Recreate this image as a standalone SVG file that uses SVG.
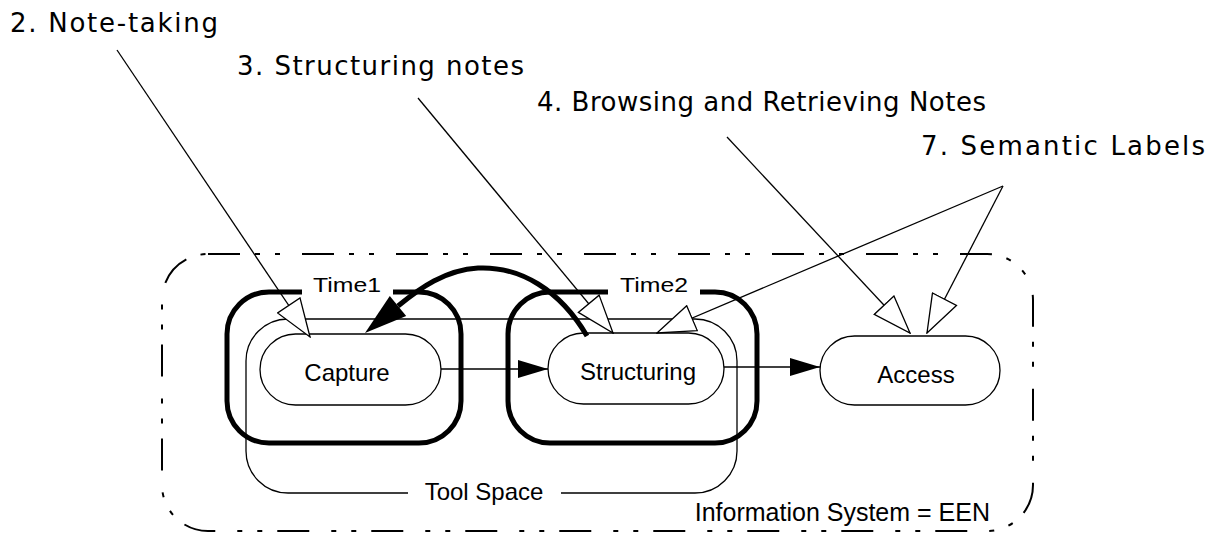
<svg xmlns="http://www.w3.org/2000/svg" width="1214" height="534" viewBox="0 0 1214 534">
<defs>
<style>
.lbl{font-family:"DejaVu Sans",Verdana,sans-serif;font-size:26px;fill:#000}
.txt{font-family:"Liberation Sans",Arial,sans-serif;font-size:24px;fill:#000}
.thin{fill:none;stroke:#000;stroke-width:1.3}
.thick{fill:none;stroke:#000;stroke-width:5}
.node{fill:#fff;stroke:#000;stroke-width:1.3}
.hollow{fill:#fff;stroke:#000;stroke-width:1.3;stroke-linejoin:miter}
</style>
<marker id="filled" viewBox="0 0 30 18" refX="30" refY="9" markerWidth="30" markerHeight="18" markerUnits="userSpaceOnUse" orient="auto">
<path d="M0,0 L30,9 L0,18 z" fill="#000"/>
</marker>
<marker id="hollowHead" viewBox="-1 -1 40 29" refX="38" refY="13.5" markerWidth="40" markerHeight="29" markerUnits="userSpaceOnUse" orient="auto">
<path d="M0,0 L38,13.5 L0,27 z" class="hollow"/>
</marker>
</defs>
<rect width="1214" height="534" fill="#fff"/>

<g id="information-system">
<rect x="162" y="254" width="871" height="277" rx="46" ry="46" fill="none" stroke="#000" stroke-width="2" stroke-dasharray="32 15 5 15 5 22"/>
<text class="txt" x="990" y="521" text-anchor="end" style="font-size:25px">Information System = EEN</text>
</g>

<g id="tool-space">
<path class="thin" d="M408,493 L288,493 A42,42 0 0 1 246,451 L246,361 A42,42 0 0 1 288,319 L695,319 A42,42 0 0 1 737,361 L737,451 A42,42 0 0 1 695,493 L561,493"/>
<text class="txt" x="484" y="500" text-anchor="middle">Tool Space</text>
</g>

<g id="time1">
<path class="thick" d="M302,292 L269,292 A42,42 0 0 0 227,334 L227,401 A42,42 0 0 0 269,443 L419,443 A42,42 0 0 0 461,401 L461,334 A42,42 0 0 0 419,292 L393,292"/>
<text class="txt" x="347" y="292" text-anchor="middle" style="font-size:21px" textLength="68" lengthAdjust="spacingAndGlyphs">Time1</text>
</g>

<g id="time2">
<path class="thick" d="M608,292 L550,292 A42,42 0 0 0 508,334 L508,401 A42,42 0 0 0 550,443 L715,443 A42,42 0 0 0 757,401 L757,334 A42,42 0 0 0 715,292 L700,292"/>
<text class="txt" x="654" y="292" text-anchor="middle" style="font-size:21px" textLength="68" lengthAdjust="spacingAndGlyphs">Time2</text>
</g>

<g id="capture">
<rect class="node" x="260" y="334" width="181" height="71" rx="35.5" ry="35.5"/>
<text class="txt" x="347" y="381" text-anchor="middle">Capture</text>
</g>

<g id="structuring">
<rect class="node" x="548" y="333" width="176" height="71" rx="35.5" ry="35.5"/>
<text class="txt" x="638" y="380" text-anchor="middle">Structuring</text>
</g>

<g id="access">
<rect class="node" x="820" y="336" width="180" height="69" rx="34.5" ry="34.5"/>
<text class="txt" x="916" y="383" text-anchor="middle">Access</text>
</g>

<g id="labels">
<text class="lbl" x="10" y="32" textLength="208" lengthAdjust="spacing">2. Note-taking</text>
<text class="lbl" x="237" y="75" textLength="287" lengthAdjust="spacing">3. Structuring notes</text>
<text class="lbl" x="537" y="111" textLength="449" lengthAdjust="spacing">4. Browsing and Retrieving Notes</text>
<text class="lbl" x="921" y="155" textLength="284" lengthAdjust="spacing">7. Semantic Labels</text>
</g>

<g id="connectors">
<line class="thin" x1="441" y1="369" x2="548" y2="369" stroke-width="1.6" marker-end="url(#filled)"/>
<line class="thin" x1="724" y1="367" x2="820" y2="367" stroke-width="1.6" marker-end="url(#filled)"/>
<path class="thick" d="M587,336 C560,290 520,266 478,268 C445,270 420,288 398,306"/>
<polygon points="365,333 389.8,295.9 406.2,316.1" fill="#000"/>
<line class="thin" x1="117" y1="50" x2="310" y2="337" marker-end="url(#hollowHead)"/>
<line class="thin" x1="418" y1="98" x2="613" y2="333" marker-end="url(#hollowHead)"/>
<line class="thin" x1="727" y1="137" x2="910" y2="333" stroke-width="1" marker-end="url(#hollowHead)"/>
<line class="thin" x1="1003" y1="186" x2="657" y2="333" marker-end="url(#hollowHead)"/>
<line class="thin" x1="1003" y1="186" x2="927" y2="333" marker-end="url(#hollowHead)"/>
</g>
</svg>
